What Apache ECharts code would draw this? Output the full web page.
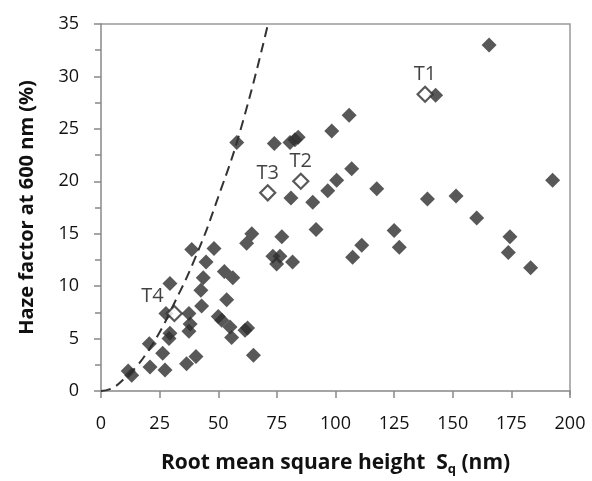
<!DOCTYPE html>
<html>
<head>
<meta charset="utf-8">
<script src="https://cdn.jsdelivr.net/npm/echarts@6/dist/echarts.min.js"></script>
<style>
  html, body { margin: 0; padding: 0; background: #fff; }
  #chart { width: 592px; height: 481px; }
</style>
</head>
<body>
<div id="chart"></div>
<script>
// measured samples (Sq nm, haze %)
var sqValues = [11.6, 13.1, 20.9, 20.6, 26.3, 27.3, 29.4, 27.7, 29.4, 29.0, 37.5, 38.0, 37.5, 36.5, 40.5,
  38.7, 44.8, 43.6, 42.6, 42.9, 48.2, 52.6, 56.2, 53.6, 50.0, 51.5, 55.0, 55.7, 61.4, 62.5, 65.0,
  57.9, 73.9, 80.6, 82.7, 84.1, 98.4, 105.8, 81.0, 90.3, 96.7, 100.5, 106.9, 117.6, 91.7, 64.3,
  62.1, 77.1, 73.3, 76.3, 74.9, 81.7, 107.3, 111.2, 125.0, 127.2, 165.5, 142.7, 139.2, 151.4,
  160.2, 192.6, 174.4, 173.7, 183.2];
var hazeValues = [1.9, 1.5, 2.3, 4.5, 3.6, 2.0, 10.25, 7.4, 5.5, 5.0, 7.4, 6.4, 5.7, 2.6, 3.3,
  13.5, 12.3, 10.8, 9.6, 8.1, 13.6, 11.4, 10.8, 8.7, 7.1, 6.75, 6.1, 5.1, 5.8, 6.0, 3.4,
  23.7, 23.6, 23.7, 23.95, 24.2, 24.8, 26.3, 18.4, 18.0, 19.1, 20.1, 21.2, 19.3, 15.4, 15.0,
  14.1, 14.7, 12.85, 12.85, 12.1, 12.3, 12.75, 13.9, 15.3, 13.7, 33.0, 28.2, 18.3, 18.6,
  16.5, 20.1, 14.7, 13.2, 11.75];

// labelled samples
var tNames = ['T1', 'T2', 'T3', 'T4'];
var tSq = [138.2, 85.2, 71.1, 31.3];
var tHaze = [28.3, 20.0, 18.9, 7.4];

// dashed curve
var curveSq = [0, 5, 10, 15, 20, 25, 30, 40, 50, 60, 71.2];
var curveHaze = [0, 0.3, 1.2, 2.3, 3.8, 5.6, 7.8, 12.6, 18.5, 25.3, 35];

var xTicks = [0, 200, 25];
var yTicks = [0, 35, 5];

var font = 'Open Sans';
var ink = '#111';
var chart = echarts.init(document.getElementById('chart'));

chart.setOption({
  animation: false,
  textStyle: { fontFamily: font },
  grid: { left: 101, right: 22, top: 24, bottom: 86 },
  xAxis: {
    type: 'value',
    min: xTicks[0], max: xTicks[1], interval: xTicks[2],
    name: 'Root mean square height  S{sub|q} (nm)',
    nameLocation: 'middle',
    nameGap: 60,
    nameTextStyle: {
      fontFamily: font, fontSize: 21, fontWeight: 'bold', color: ink,
      rich: { sub: { fontFamily: font, fontSize: 13, fontWeight: 'bold', color: ink, padding: [12, 0, 0, 0] } }
    },
    axisLine: { show: true, lineStyle: { color: '#888', width: 1.5 } },
    axisTick: { show: true, inside: false, length: 7, lineStyle: { color: '#888', width: 1.5 } },
    axisLabel: { fontSize: 18, color: ink, margin: 24 },
    splitLine: { show: false }
  },
  yAxis: {
    type: 'value',
    min: yTicks[0], max: yTicks[1], interval: yTicks[2],
    name: 'Haze factor at 600 nm (%)',
    nameLocation: 'middle',
    nameGap: 64,
    nameTextStyle: { fontFamily: font, fontSize: 20, fontWeight: 'bold', color: ink },
    axisLine: { show: true, lineStyle: { color: '#888', width: 1.5 } },
    axisTick: { show: true, length: 7, lineStyle: { color: '#888', width: 1.5 } },
    minorTick: { show: true, splitNumber: 2, length: 6, lineStyle: { color: '#888', width: 1.5 } },
    axisLabel: { fontSize: 18, color: ink, margin: 22 },
    splitLine: { show: false }
  },
  graphic: [{
    type: 'polyline',
    shape: { points: [[101, 24], [570, 24], [570, 395]] },
    style: { stroke: '#999', lineWidth: 1.5, fill: null },
    silent: true
  }],
  series: [
    {
      type: 'line',
      data: curveSq.map(function (x, i) { return [x, curveHaze[i]]; }),
      smooth: true,
      showSymbol: false,
      lineStyle: { color: '#333', width: 2, type: [10, 6] },
      z: 1
    },
    {
      type: 'scatter',
      symbol: 'diamond',
      symbolSize: 15,
      data: sqValues.map(function (x, i) { return [x, hazeValues[i]]; }),
      itemStyle: { color: '#2e2e2e' },
      z: 2
    },
    {
      type: 'scatter',
      symbol: 'diamond',
      symbolSize: 15,
      data: tNames.map(function (n, i) {
        var d = { name: n, value: [tSq[i], tHaze[i]] };
        if (n === 'T4') d.label = { offset: [-22, 2] };
        return d;
      }),
      itemStyle: { color: '#fff', borderColor: '#2e2e2e', borderWidth: 2.2 },
      label: {
        show: true, position: 'top', distance: 1,
        formatter: '{b}', fontFamily: font, fontSize: 20, color: ink
      },
      z: 3
    }
  ]
});
</script>
</body>
</html>
